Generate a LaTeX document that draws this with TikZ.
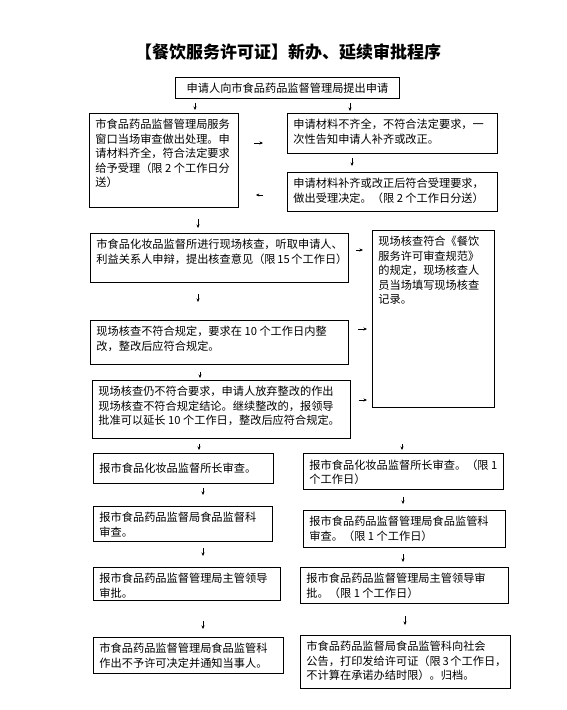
\documentclass[tikz,border=0pt]{standalone}
\usepackage{fontspec}
\setmainfont{Noto Sans CJK SC}
\usetikzlibrary{arrows.meta}
\tikzset{
  box/.style={draw,line width=.9pt,anchor=north west,inner xsep=6pt,inner ysep=6pt,
              font=\fontsize{11.2}{14.5}\selectfont},
  link/.style 2 args={-{Stealth[length=3.5pt,width=3pt]},line width=.6pt,
              shorten <=#1,shorten >=#2}
}
% text block of fixed width and height, set from the top
\newcommand\boxtext[4][]{\vbox to #3{#1\hsize=#2\relax\noindent#4\par\vss}}

\begin{document}
\begin{tikzpicture}[x=1pt,y=-1pt]
  \useasboundingbox[fill=white] (0,0) rectangle (567,710);
  \node[font=\bfseries\fontsize{17}{20}\selectfont] (title) at (288,52) {【餐饮服务许可证】新办、延续审批程序};
  \node[box,inner ysep=0pt,minimum width=224pt,minimum height=21pt] (top) at (175,77) {申请人向市食品药品监督管理局提出申请};
  % acceptance
  \node[box] (L1) at (89,113) {\boxtext{137pt}{82pt}{市食品药品监督管理局服务\\窗口当场审查做出处理。申\\请材料齐全，符合法定要求\\给予受理（限 2 个工作日分\\送）}};
  \node[box] (R1) at (287,113) {\boxtext{198pt}{28pt}{申请材料不齐全，不符合法定要求，一\\次性告知申请人补齐或改正。}};
  \node[box] (R2) at (287,172) {\boxtext{198pt}{27pt}{申请材料补齐或改正后符合受理要求，\\做出受理决定。（限 2 个工作日分送）}};
  % site check
  \node[box] (L2) at (90,233) {\boxtext{246pt}{37pt}{市食品化妆品监督所进行现场核查，听取申请人、\\利益关系人申辩，提出核查意见（限 15 个工作日）}};
  \node[box] (R3) at (372,230) {\boxtext{110pt}{165pt}{现场核查符合《餐饮\\服务许可审查规范》\\的规定，现场核查人\\员当场填写现场核查\\记录。}};
  \node[box] (L3) at (90,320) {\boxtext{246pt}{32pt}{现场核查不符合规定，要求在 10 个工作日内整\\改，整改后应符合规定。}};
  \node[box] (L4) at (92,380) {\boxtext{246pt}{46pt}{现场核查仍不符合要求，申请人放弃整改的作出\\现场核查不符合规定结论。继续整改的，报领导\\批准可以延长 10 个工作日，整改后应符合规定。}};
  % refusal branch
  \node[box] (L5) at (93,453) {\boxtext[\vss]{168pt}{18pt}{报市食品化妆品监督所长审查。}};
  \node[box] (L6) at (93,506) {\boxtext{167pt}{23pt}{报市食品药品监督局食品监督科\\审查。}};
  \node[box] (L7) at (93,567) {\boxtext{175pt}{21pt}{报市食品药品监督管理局主管领导\\审批。}};
  \node[box] (L8) at (93,637) {\boxtext{178pt}{24pt}{市食品药品监督管理局食品监管科\\作出不予许可决定并通知当事人。}};
  % approval branch
  \node[box] (R5) at (303,453) {\boxtext{188pt}{24pt}{报市食品化妆品监督所长审查。（限 1\\个工作日）}};
  \node[box] (R6) at (303,510) {\boxtext{190pt}{25pt}{报市食品药品监督管理局食品监管科\\审查。（限 1 个工作日）}};
  \node[box] (R7) at (300,567) {\boxtext{196pt}{24pt}{报市食品药品监督管理局主管领导审\\批。（限 1 个工作日）}};
  \node[box] (R8) at (300,635) {\boxtext{198pt}{41pt}{市食品药品监督局食品监管科向社会\\公告，打印发给许可证（限 3 个工作日，\\不计算在承诺办结时限）。归档。}};
  % arrows
  \draw[link={4pt}{3pt}] (top.south -| 195,0) -- (L1.north -| 195,0);
  \draw[link={4pt}{2pt}] (top.south -| 350,0) -- (R1.north -| 350,0);
  \draw[link={15pt}{24pt}] (L1.east |- 0,143) -- (R1.west |- 0,143);
  \draw[link={4pt}{6pt}] (R1.south -| 352,0) -- (R2.north -| 352,0);
  \draw[link={24pt}{17pt}] (R2.west |- 0,195) -- (L1.east |- 0,195);
  \draw[link={11pt}{5pt}] (L1.south -| 198,0) -- (L2.north -| 198,0);
  \draw[link={7pt}{9pt}] (L2.east |- 0,250) -- (R3.west |- 0,250);
  \draw[link={11pt}{18pt}] (L2.south -| 198,0) -- (L3.north -| 198,0);
  \draw[link={9pt}{5pt}] (L3.east |- 0,329) -- (R3.west |- 0,329);
  \draw[link={7pt}{2pt}] (L3.south -| 200,0) -- (L4.north -| 200,0);
  \draw[link={8pt}{5pt}] (L4.east |- 0,400) -- (R3.west |- 0,400);
  \draw[link={5pt}{3pt}] (L4.south -| 199,0) -- (L5.north -| 199,0);
  \draw[link={36pt}{3pt}] (R3.south -| 402,0) -- (R5.north -| 402,0);
  \draw[link={4pt}{11pt}] (L5.south -| 203,0) -- (L6.north -| 203,0);
  \draw[link={7pt}{6pt}] (R5.south -| 403,0) -- (R6.north -| 403,0);
  \draw[link={6pt}{11pt}] (L6.south -| 203,0) -- (L7.north -| 203,0);
  \draw[link={6pt}{5pt}] (R6.south -| 403,0) -- (R7.north -| 403,0);
  \draw[link={20pt}{8pt}] (L7.south -| 203,0) -- (L8.north -| 203,0);
  \draw[link={12pt}{10pt}] (R7.south -| 405,0) -- (R8.north -| 405,0);
\end{tikzpicture}
\end{document}
